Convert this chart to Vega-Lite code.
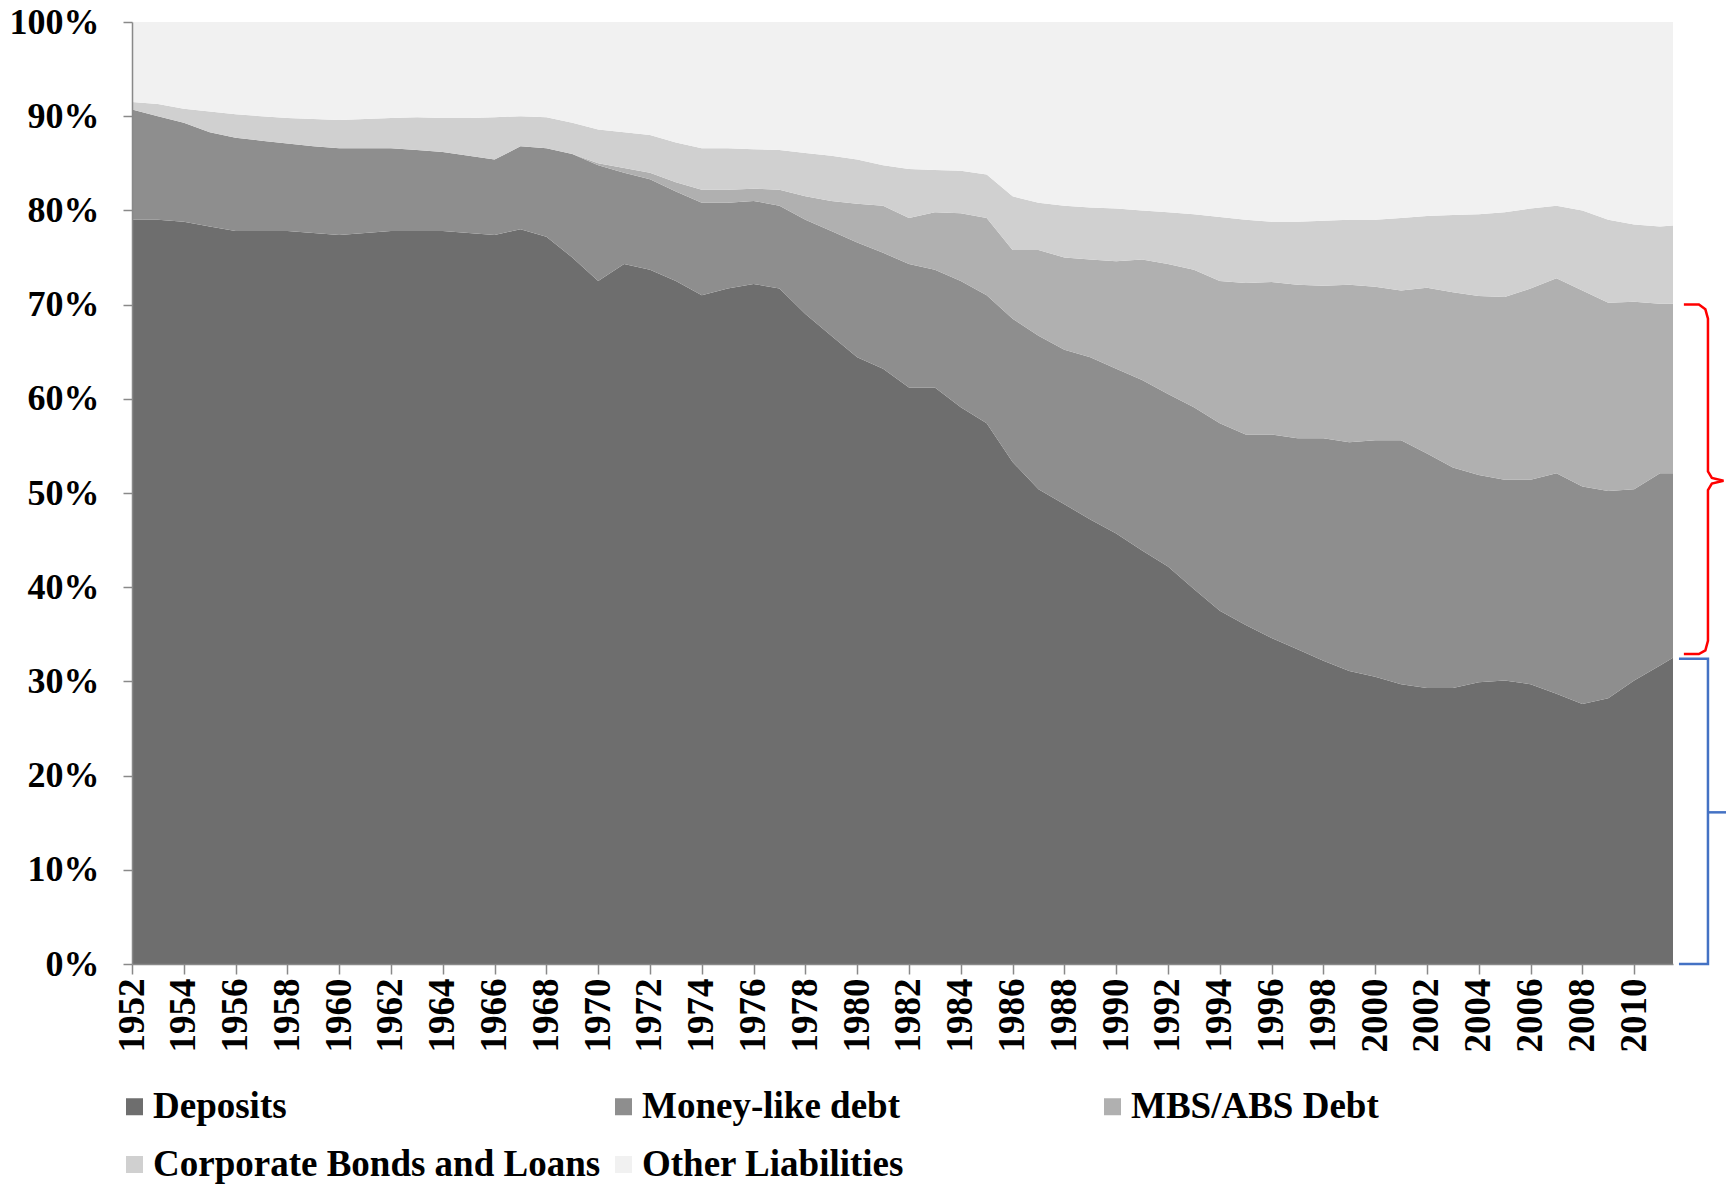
{
  "$schema": "https://vega.github.io/schema/vega-lite/v6.json",
  "width": 1541,
  "height": 942,
  "autosize": {"type": "none"},
  "padding": {"left": 132, "top": 22, "right": 53, "bottom": 220},
  "background": "white",
  "config": {"font": "Liberation Serif", "view": {"stroke": null}},
  "datasets": {
    "seriesOrder": [
      {"series": "Deposits", "rank": 1},
      {"series": "Money-like debt", "rank": 2},
      {"series": "MBS/ABS Debt", "rank": 3},
      {"series": "Corporate Bonds and Loans", "rank": 4},
      {"series": "Other Liabilities", "rank": 5}
    ],
    "liab": [
      {"year": 1952, "Deposits": 79.0, "Money-like debt": 11.7, "MBS/ABS Debt": 0, "Corporate Bonds and Loans": 0.8, "Other Liabilities": 8.5},
      {"year": 1953, "Deposits": 79.0, "Money-like debt": 11.0, "MBS/ABS Debt": 0, "Corporate Bonds and Loans": 1.3, "Other Liabilities": 8.7},
      {"year": 1954, "Deposits": 78.8, "Money-like debt": 10.5, "MBS/ABS Debt": 0, "Corporate Bonds and Loans": 1.5, "Other Liabilities": 9.2},
      {"year": 1955, "Deposits": 78.3, "Money-like debt": 10.0, "MBS/ABS Debt": 0, "Corporate Bonds and Loans": 2.2, "Other Liabilities": 9.5},
      {"year": 1956, "Deposits": 77.8, "Money-like debt": 9.9, "MBS/ABS Debt": 0, "Corporate Bonds and Loans": 2.5, "Other Liabilities": 9.8},
      {"year": 1957, "Deposits": 77.8, "Money-like debt": 9.6, "MBS/ABS Debt": 0, "Corporate Bonds and Loans": 2.6, "Other Liabilities": 10.0},
      {"year": 1958, "Deposits": 77.8, "Money-like debt": 9.3, "MBS/ABS Debt": 0, "Corporate Bonds and Loans": 2.7, "Other Liabilities": 10.2},
      {"year": 1959, "Deposits": 77.6, "Money-like debt": 9.2, "MBS/ABS Debt": 0, "Corporate Bonds and Loans": 2.9, "Other Liabilities": 10.3},
      {"year": 1960, "Deposits": 77.4, "Money-like debt": 9.2, "MBS/ABS Debt": 0, "Corporate Bonds and Loans": 3.0, "Other Liabilities": 10.4},
      {"year": 1961, "Deposits": 77.6, "Money-like debt": 9.0, "MBS/ABS Debt": 0, "Corporate Bonds and Loans": 3.1, "Other Liabilities": 10.3},
      {"year": 1962, "Deposits": 77.8, "Money-like debt": 8.8, "MBS/ABS Debt": 0, "Corporate Bonds and Loans": 3.2, "Other Liabilities": 10.2},
      {"year": 1963, "Deposits": 77.8, "Money-like debt": 8.6, "MBS/ABS Debt": 0, "Corporate Bonds and Loans": 3.5, "Other Liabilities": 10.1},
      {"year": 1964, "Deposits": 77.8, "Money-like debt": 8.4, "MBS/ABS Debt": 0, "Corporate Bonds and Loans": 3.6, "Other Liabilities": 10.2},
      {"year": 1965, "Deposits": 77.6, "Money-like debt": 8.2, "MBS/ABS Debt": 0, "Corporate Bonds and Loans": 4.0, "Other Liabilities": 10.2},
      {"year": 1966, "Deposits": 77.4, "Money-like debt": 8.0, "MBS/ABS Debt": 0, "Corporate Bonds and Loans": 4.5, "Other Liabilities": 10.1},
      {"year": 1967, "Deposits": 78.0, "Money-like debt": 8.8, "MBS/ABS Debt": 0, "Corporate Bonds and Loans": 3.2, "Other Liabilities": 10.0},
      {"year": 1968, "Deposits": 77.2, "Money-like debt": 9.4, "MBS/ABS Debt": 0, "Corporate Bonds and Loans": 3.3, "Other Liabilities": 10.1},
      {"year": 1969, "Deposits": 75.0, "Money-like debt": 11.0, "MBS/ABS Debt": 0, "Corporate Bonds and Loans": 3.3, "Other Liabilities": 10.7},
      {"year": 1970, "Deposits": 72.5, "Money-like debt": 12.3, "MBS/ABS Debt": 0.2, "Corporate Bonds and Loans": 3.6, "Other Liabilities": 11.4},
      {"year": 1971, "Deposits": 74.3, "Money-like debt": 9.7, "MBS/ABS Debt": 0.5, "Corporate Bonds and Loans": 3.8, "Other Liabilities": 11.7},
      {"year": 1972, "Deposits": 73.7, "Money-like debt": 9.6, "MBS/ABS Debt": 0.7, "Corporate Bonds and Loans": 4.0, "Other Liabilities": 12.0},
      {"year": 1973, "Deposits": 72.5, "Money-like debt": 9.5, "MBS/ABS Debt": 1.0, "Corporate Bonds and Loans": 4.2, "Other Liabilities": 12.8},
      {"year": 1974, "Deposits": 71.0, "Money-like debt": 9.8, "MBS/ABS Debt": 1.4, "Corporate Bonds and Loans": 4.4, "Other Liabilities": 13.4},
      {"year": 1975, "Deposits": 71.7, "Money-like debt": 9.1, "MBS/ABS Debt": 1.4, "Corporate Bonds and Loans": 4.4, "Other Liabilities": 13.4},
      {"year": 1976, "Deposits": 72.2, "Money-like debt": 8.8, "MBS/ABS Debt": 1.3, "Corporate Bonds and Loans": 4.2, "Other Liabilities": 13.5},
      {"year": 1977, "Deposits": 71.7, "Money-like debt": 8.8, "MBS/ABS Debt": 1.7, "Corporate Bonds and Loans": 4.2, "Other Liabilities": 13.6},
      {"year": 1978, "Deposits": 69.0, "Money-like debt": 10.0, "MBS/ABS Debt": 2.5, "Corporate Bonds and Loans": 4.6, "Other Liabilities": 13.9},
      {"year": 1979, "Deposits": 66.7, "Money-like debt": 11.1, "MBS/ABS Debt": 3.2, "Corporate Bonds and Loans": 4.8, "Other Liabilities": 14.2},
      {"year": 1980, "Deposits": 64.4, "Money-like debt": 12.2, "MBS/ABS Debt": 4.1, "Corporate Bonds and Loans": 4.7, "Other Liabilities": 14.6},
      {"year": 1981, "Deposits": 63.2, "Money-like debt": 12.3, "MBS/ABS Debt": 5.0, "Corporate Bonds and Loans": 4.3, "Other Liabilities": 15.2},
      {"year": 1982, "Deposits": 61.2, "Money-like debt": 13.1, "MBS/ABS Debt": 4.9, "Corporate Bonds and Loans": 5.2, "Other Liabilities": 15.6},
      {"year": 1983, "Deposits": 61.2, "Money-like debt": 12.5, "MBS/ABS Debt": 6.1, "Corporate Bonds and Loans": 4.5, "Other Liabilities": 15.7},
      {"year": 1984, "Deposits": 59.1, "Money-like debt": 13.4, "MBS/ABS Debt": 7.2, "Corporate Bonds and Loans": 4.5, "Other Liabilities": 15.8},
      {"year": 1985, "Deposits": 57.4, "Money-like debt": 13.6, "MBS/ABS Debt": 8.2, "Corporate Bonds and Loans": 4.6, "Other Liabilities": 16.2},
      {"year": 1986, "Deposits": 53.3, "Money-like debt": 15.2, "MBS/ABS Debt": 7.3, "Corporate Bonds and Loans": 5.7, "Other Liabilities": 18.5},
      {"year": 1987, "Deposits": 50.4, "Money-like debt": 16.3, "MBS/ABS Debt": 9.1, "Corporate Bonds and Loans": 5.0, "Other Liabilities": 19.2},
      {"year": 1988, "Deposits": 48.8, "Money-like debt": 16.4, "MBS/ABS Debt": 9.8, "Corporate Bonds and Loans": 5.5, "Other Liabilities": 19.5},
      {"year": 1989, "Deposits": 47.2, "Money-like debt": 17.2, "MBS/ABS Debt": 10.4, "Corporate Bonds and Loans": 5.5, "Other Liabilities": 19.7},
      {"year": 1990, "Deposits": 45.7, "Money-like debt": 17.5, "MBS/ABS Debt": 11.4, "Corporate Bonds and Loans": 5.6, "Other Liabilities": 19.8},
      {"year": 1991, "Deposits": 43.9, "Money-like debt": 18.1, "MBS/ABS Debt": 12.8, "Corporate Bonds and Loans": 5.2, "Other Liabilities": 20.0},
      {"year": 1992, "Deposits": 42.2, "Money-like debt": 18.3, "MBS/ABS Debt": 13.8, "Corporate Bonds and Loans": 5.5, "Other Liabilities": 20.2},
      {"year": 1993, "Deposits": 39.8, "Money-like debt": 19.3, "MBS/ABS Debt": 14.6, "Corporate Bonds and Loans": 5.9, "Other Liabilities": 20.4},
      {"year": 1994, "Deposits": 37.5, "Money-like debt": 19.9, "MBS/ABS Debt": 15.1, "Corporate Bonds and Loans": 6.8, "Other Liabilities": 20.7},
      {"year": 1995, "Deposits": 36.0, "Money-like debt": 20.2, "MBS/ABS Debt": 16.1, "Corporate Bonds and Loans": 6.7, "Other Liabilities": 21.0},
      {"year": 1996, "Deposits": 34.6, "Money-like debt": 21.6, "MBS/ABS Debt": 16.2, "Corporate Bonds and Loans": 6.4, "Other Liabilities": 21.2},
      {"year": 1997, "Deposits": 33.4, "Money-like debt": 22.4, "MBS/ABS Debt": 16.3, "Corporate Bonds and Loans": 6.7, "Other Liabilities": 21.2},
      {"year": 1998, "Deposits": 32.2, "Money-like debt": 23.6, "MBS/ABS Debt": 16.2, "Corporate Bonds and Loans": 6.9, "Other Liabilities": 21.1},
      {"year": 1999, "Deposits": 31.1, "Money-like debt": 24.3, "MBS/ABS Debt": 16.7, "Corporate Bonds and Loans": 6.9, "Other Liabilities": 21.0},
      {"year": 2000, "Deposits": 30.5, "Money-like debt": 25.1, "MBS/ABS Debt": 16.3, "Corporate Bonds and Loans": 7.1, "Other Liabilities": 21.0},
      {"year": 2001, "Deposits": 29.7, "Money-like debt": 25.9, "MBS/ABS Debt": 15.9, "Corporate Bonds and Loans": 7.7, "Other Liabilities": 20.8},
      {"year": 2002, "Deposits": 29.3, "Money-like debt": 24.9, "MBS/ABS Debt": 17.6, "Corporate Bonds and Loans": 7.6, "Other Liabilities": 20.6},
      {"year": 2003, "Deposits": 29.3, "Money-like debt": 23.4, "MBS/ABS Debt": 18.6, "Corporate Bonds and Loans": 8.2, "Other Liabilities": 20.5},
      {"year": 2004, "Deposits": 29.9, "Money-like debt": 22.0, "MBS/ABS Debt": 19.0, "Corporate Bonds and Loans": 8.7, "Other Liabilities": 20.4},
      {"year": 2005, "Deposits": 30.1, "Money-like debt": 21.3, "MBS/ABS Debt": 19.4, "Corporate Bonds and Loans": 9.0, "Other Liabilities": 20.2},
      {"year": 2006, "Deposits": 29.7, "Money-like debt": 21.7, "MBS/ABS Debt": 20.3, "Corporate Bonds and Loans": 8.5, "Other Liabilities": 19.8},
      {"year": 2007, "Deposits": 28.7, "Money-like debt": 23.4, "MBS/ABS Debt": 20.7, "Corporate Bonds and Loans": 7.7, "Other Liabilities": 19.5},
      {"year": 2008, "Deposits": 27.6, "Money-like debt": 23.1, "MBS/ABS Debt": 20.8, "Corporate Bonds and Loans": 8.5, "Other Liabilities": 20.0},
      {"year": 2009, "Deposits": 28.2, "Money-like debt": 22.0, "MBS/ABS Debt": 20.0, "Corporate Bonds and Loans": 8.8, "Other Liabilities": 21.0},
      {"year": 2010, "Deposits": 30.1, "Money-like debt": 20.3, "MBS/ABS Debt": 19.9, "Corporate Bonds and Loans": 8.2, "Other Liabilities": 21.5},
      {"year": 2011, "Deposits": 31.7, "Money-like debt": 20.4, "MBS/ABS Debt": 18.0, "Corporate Bonds and Loans": 8.2, "Other Liabilities": 21.7},
      {"year": 2011.5, "Deposits": 32.5, "Money-like debt": 19.6, "MBS/ABS Debt": 18.0, "Corporate Bonds and Loans": 8.3, "Other Liabilities": 21.6}
    ],
    "red": [
      {"year": 2011.92, "share": 0.700},
      {"year": 2012.5, "share": 0.700},
      {"year": 2012.75, "share": 0.695},
      {"year": 2012.85, "share": 0.685},
      {"year": 2012.85, "share": 0.523},
      {"year": 2013.0, "share": 0.516},
      {"year": 2013.45, "share": 0.513},
      {"year": 2013.0, "share": 0.510},
      {"year": 2012.85, "share": 0.503},
      {"year": 2012.85, "share": 0.343},
      {"year": 2012.75, "share": 0.333},
      {"year": 2012.5, "share": 0.329},
      {"year": 2011.92, "share": 0.329}
    ],
    "blue": [
      {"part": "bracket", "year": 2011.73, "share": 0.324},
      {"part": "bracket", "year": 2012.85, "share": 0.324},
      {"part": "bracket", "year": 2012.85, "share": 0.0},
      {"part": "bracket", "year": 2011.73, "share": 0.0},
      {"part": "tick", "year": 2012.85, "share": 0.161},
      {"part": "tick", "year": 2013.6, "share": 0.161}
    ]
  },
  "layer": [
    {
      "data": {"name": "liab"},
      "transform": [
        {"fold": ["Deposits", "Money-like debt", "MBS/ABS Debt", "Corporate Bonds and Loans", "Other Liabilities"], "as": ["series", "value"]},
        {"lookup": "series", "from": {"data": {"name": "seriesOrder"}, "key": "series", "fields": ["rank"]}}
      ],
      "mark": {"type": "area", "interpolate": "linear", "opacity": 1, "strokeWidth": 0},
      "encoding": {
        "x": {
          "field": "year", "type": "quantitative", "title": null,
          "scale": {"domain": [1952, 2011.5], "nice": false, "zero": false},
          "axis": {
            "values": [1952,1953,1954,1955,1956,1957,1958,1959,1960,1961,1962,1963,1964,1965,1966,1967,1968,1969,1970,1971,1972,1973,1974,1975,1976,1977,1978,1979,1980,1981,1982,1983,1984,1985,1986,1987,1988,1989,1990,1991,1992,1993,1994,1995,1996,1997,1998,1999,2000,2001,2002,2003,2004,2005,2006,2007,2008,2009,2010,2011],
            "format": "d",
            "labelExpr": "datum.value % 2 == 0 ? datum.label : ''",
            "labelAngle": -90,
            "labelFont": "Liberation Serif",
            "labelFontSize": 37,
            "labelFontWeight": "bold",
            "labelColor": "black",
            "labelPadding": 4,
            "labelOverlap": false,
            "labelBound": false,
            "labelFlush": false,
            "tickSize": 10,
            "tickWidth": 1.5,
            "tickColor": "#898989",
            "domainColor": "#898989",
            "domainWidth": 1.5,
            "grid": false,
            "title": null,
            "zindex": 1
          }
        },
        "y": {
          "field": "value", "type": "quantitative", "stack": "normalize", "title": null,
          "scale": {"domain": [0, 1], "nice": false},
          "axis": {
            "values": [0, 0.1, 0.2, 0.3, 0.4, 0.5, 0.6, 0.7, 0.8, 0.9, 1],
            "format": ".0%",
            "labelFont": "Liberation Serif",
            "labelFontSize": 36,
            "labelFontWeight": "bold",
            "labelColor": "black",
            "labelPadding": 24,
            "tickSize": 9,
            "tickWidth": 1.5,
            "tickColor": "#898989",
            "domainColor": "#898989",
            "domainWidth": 1.5,
            "grid": false,
            "title": null,
            "zindex": 1
          }
        },
        "order": {"field": "rank", "type": "quantitative", "sort": "ascending"},
        "color": {
          "field": "series", "type": "nominal",
          "sort": ["Deposits", "Money-like debt", "MBS/ABS Debt", "Corporate Bonds and Loans", "Other Liabilities"],
          "scale": {
            "domain": ["Deposits", "Money-like debt", "MBS/ABS Debt", "Corporate Bonds and Loans", "Other Liabilities"],
            "range": ["#6e6e6e", "#8e8e8e", "#b0b0b0", "#d0d0d0", "#f1f1f1"]
          },
          "legend": {
            "orient": "none",
            "legendX": -16,
            "legendY": 1066,
            "direction": "horizontal",
            "columns": 3,
            "gridAlign": "all",
            "columnPadding": 4,
            "rowPadding": 20,
            "symbolType": "square",
            "symbolSize": 289,
            "symbolStrokeWidth": 0,
            "symbolOpacity": 1,
            "labelFont": "Liberation Serif",
            "labelFontSize": 37,
            "labelFontWeight": "bold",
            "labelColor": "black",
            "labelLimit": 1000,
            "labelOffset": 0,
            "padding": 0,
            "title": null
          }
        }
      }
    },
    {
      "mark": {"type": "rule", "color": "#898989", "strokeWidth": 1.5},
      "encoding": {"y": {"datum": 1, "type": "quantitative", "title": null}}
    },
    {
      "data": {"name": "red"},
      "mark": {"type": "line", "color": "#FF0000", "strokeWidth": 2.5},
      "encoding": {
        "x": {"field": "year", "type": "quantitative", "title": null},
        "y": {"field": "share", "type": "quantitative", "title": null},
        "order": {"value": null}
      }
    },
    {
      "data": {"name": "blue"},
      "mark": {"type": "line", "color": "#4472C4", "strokeWidth": 2.5},
      "encoding": {
        "x": {"field": "year", "type": "quantitative", "title": null},
        "y": {"field": "share", "type": "quantitative", "title": null},
        "detail": {"field": "part", "type": "nominal"},
        "order": {"value": null}
      }
    }
  ]
}
